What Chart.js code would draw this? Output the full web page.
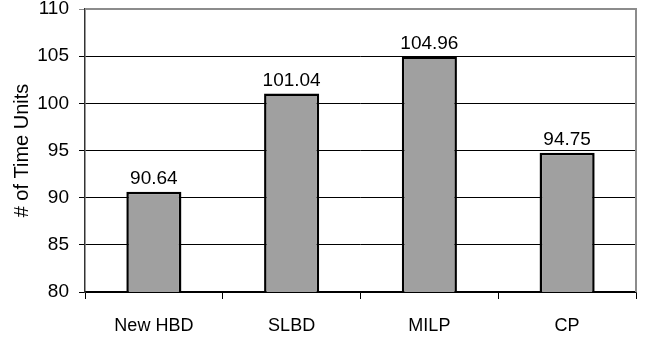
<!DOCTYPE html>
<html>
<head>
<meta charset="utf-8">
<script src="https://cdn.jsdelivr.net/npm/chart.js@4/dist/chart.umd.min.js"></script>
<style>
  html, body { margin: 0; padding: 0; background: #fff; }
  #wrap { width: 645px; height: 338px; }
</style>
</head>
<body>
<div id="wrap"><canvas id="c" width="645" height="338"></canvas></div>
<script>
// Methods compared and their completion time
const categories = ['New HBD', 'SLBD', 'MILP', 'CP'];
const timeUnits = [90.64, 101.04, 104.96, 94.75];
const yTicks = [80, 85, 90, 95, 100, 105, 110];

const FONT = "'Liberation Sans', Arial, sans-serif";

// Gray frame on the top and right of the plot area
const framePlugin = {
  id: 'frame',
  beforeDatasetsDraw(chart) {
    const { ctx, chartArea: a } = chart;
    ctx.save();
    ctx.strokeStyle = '#8c8c8c';
    ctx.lineWidth = 2;
    ctx.beginPath();
    ctx.moveTo(a.left, a.top);
    ctx.lineTo(a.right, a.top);
    ctx.lineTo(a.right, a.bottom);
    ctx.stroke();
    ctx.restore();
  }
};

// Value printed above each bar
const valueLabels = {
  id: 'valueLabels',
  afterDatasetsDraw(chart) {
    const { ctx } = chart;
    const meta = chart.getDatasetMeta(0);
    ctx.save();
    ctx.font = '19px ' + FONT;
    ctx.fillStyle = '#000';
    ctx.textAlign = 'center';
    ctx.textBaseline = 'alphabetic';
    meta.data.forEach((bar, i) => {
      ctx.fillText(timeUnits[i].toFixed(2), bar.x, bar.y - 8);
    });
    ctx.restore();
  }
};

new Chart(document.getElementById('c'), {
  type: 'bar',
  data: {
    labels: categories,
    datasets: [{
      data: timeUnits,
      backgroundColor: '#a0a0a0',
      borderColor: '#000',
      borderWidth: 2.5,
      borderSkipped: false,
      categoryPercentage: 1.0,
      barPercentage: 0.4
    }]
  },
  options: {
    responsive: false,
    animation: false,
    layout: { padding: { top: 9, right: 9, left: 0, bottom: 0 } },
    plugins: { legend: { display: false }, tooltip: { enabled: false } },
    scales: {
      x: {
        grid: {
          offset: true,
          drawOnChartArea: false,
          drawTicks: true,
          tickLength: 7,
          color: '#000',
          lineWidth: 1
        },
        border: { color: '#000', width: 1.5 },
        ticks: {
          color: '#000',
          font: { family: FONT, size: 18 },
          padding: 16,
          maxRotation: 0
        },
        afterFit(scale) {
          scale.height = 46;
          scale.paddingLeft = 0;
          scale.paddingRight = 0;
        }
      },
      y: {
        min: 80,
        max: 110,
        afterBuildTicks(scale) { scale.ticks = yTicks.map(v => ({ value: v })); },
        grid: {
          color: ctx => (ctx.tick && ctx.tick.value === 110) ? '#8c8c8c' : '#000',
          lineWidth: 1,
          tickLength: 6,
          drawTicks: true
        },
        border: { color: '#333', width: 1.5 },
        ticks: {
          color: '#000',
          font: { family: FONT, size: 19 },
          padding: 10
        },
        title: {
          display: true,
          text: '# of Time Units',
          color: '#000',
          font: { family: FONT, size: 20 },
          padding: { top: 10, bottom: 0 }
        },
        afterFit(scale) {
          scale.width = 85;
          scale.paddingTop = 0;
          scale.paddingBottom = 0;
        }
      }
    }
  },
  plugins: [framePlugin, valueLabels]
});
</script>
</body>
</html>
